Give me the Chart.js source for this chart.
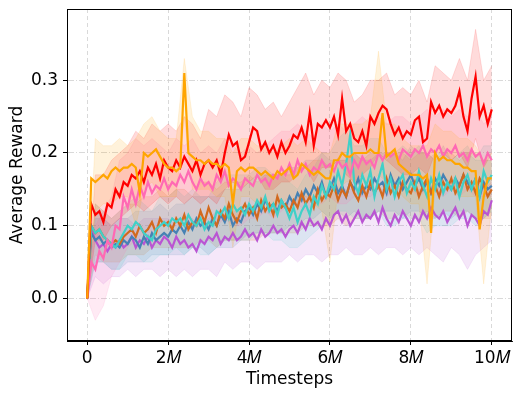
<!DOCTYPE html>
<html>
<head>
<meta charset="utf-8">
<script src="https://cdn.jsdelivr.net/npm/chart.js@4.4.1/dist/chart.umd.min.js"></script>
<style>
html,body{margin:0;padding:0;background:#fff;}
canvas{display:block;}
</style>
</head>
<body>
<canvas id="c" width="522" height="398"></canvas>
<script>
// ---- x grid (millions of timesteps) ----
const timesteps = Array.from({length: 101}, (_, i) => i / 10);   // mean curves every 0.1M
const bandSteps = Array.from({length: 51}, (_, i) => i / 5);     // shaded bands every 0.2M

const xTickValues = [0, 2, 4, 6, 8, 10];
const xTickLabels = ['0', '2\u{1D440}', '4\u{1D440}', '6\u{1D440}', '8\u{1D440}', '10\u{1D440}'];
const yTickValues = [0, 0.1, 0.2, 0.3];
const yTickLabels = ['0.0', '0.1', '0.2', '0.3'];

// ---- mean curves ----
const redMean = [0.0,0.13,0.115,0.12,0.105,0.13,0.125,0.15,0.14,0.16,
0.155,0.17,0.165,0.175,0.16,0.18,0.17,0.185,0.165,0.19,
0.18,0.175,0.19,0.18,0.195,0.185,0.175,0.19,0.17,0.185,
0.19,0.18,0.19,0.17,0.2,0.225,0.21,0.215,0.19,0.195,
0.215,0.235,0.23,0.205,0.215,0.2,0.21,0.195,0.215,0.2,
0.21,0.225,0.22,0.235,0.215,0.255,0.21,0.24,0.235,0.245,
0.235,0.25,0.225,0.275,0.23,0.24,0.22,0.215,0.23,0.21,
0.25,0.24,0.255,0.265,0.26,0.24,0.225,0.235,0.22,0.23,
0.225,0.245,0.25,0.215,0.22,0.27,0.255,0.265,0.25,0.26,
0.255,0.265,0.285,0.25,0.23,0.275,0.305,0.25,0.265,0.24,0.26];

const orangeMean = [0.0,0.165,0.16,0.165,0.17,0.165,0.175,0.18,0.175,0.18,
0.18,0.185,0.18,0.145,0.2,0.195,0.2,0.205,0.195,0.185,
0.18,0.18,0.175,0.18,0.31,0.2,0.195,0.19,0.19,0.185,
0.19,0.185,0.185,0.18,0.185,0.18,0.13,0.175,0.18,0.175,
0.18,0.18,0.175,0.17,0.175,0.17,0.165,0.175,0.17,0.175,
0.18,0.165,0.17,0.185,0.18,0.175,0.17,0.175,0.17,0.165,
0.165,0.19,0.19,0.2,0.195,0.195,0.2,0.2,0.2,0.2,
0.205,0.2,0.2,0.255,0.195,0.2,0.205,0.185,0.18,0.175,
0.17,0.17,0.17,0.165,0.17,0.09,0.2,0.19,0.195,0.19,
0.19,0.185,0.185,0.18,0.18,0.175,0.175,0.095,0.14,0.165,0.165];

const pinkMean = [0.0,0.05,0.04,0.065,0.055,0.08,0.07,0.1,0.095,0.14,
0.125,0.15,0.13,0.155,0.14,0.16,0.145,0.155,0.15,0.165,
0.15,0.16,0.155,0.17,0.16,0.175,0.16,0.15,0.165,0.155,
0.16,0.15,0.17,0.16,0.175,0.155,0.165,0.16,0.15,0.165,
0.16,0.155,0.17,0.16,0.165,0.155,0.17,0.165,0.18,0.17,
0.185,0.17,0.19,0.175,0.185,0.17,0.18,0.175,0.19,0.18,
0.185,0.175,0.19,0.18,0.185,0.17,0.19,0.18,0.195,0.185,
0.19,0.18,0.2,0.19,0.2,0.195,0.2,0.19,0.205,0.2,
0.195,0.205,0.2,0.21,0.195,0.205,0.2,0.21,0.195,0.205,
0.2,0.21,0.195,0.2,0.19,0.205,0.195,0.2,0.185,0.2,0.19];

const cyanMean = [0.0,0.1,0.09,0.095,0.085,0.08,0.075,0.07,0.08,0.09,
0.1,0.095,0.105,0.1,0.09,0.085,0.08,0.095,0.1,0.105,
0.1,0.11,0.105,0.11,0.1,0.115,0.105,0.1,0.11,0.095,
0.105,0.1,0.12,0.115,0.125,0.11,0.13,0.12,0.125,0.115,
0.13,0.12,0.135,0.125,0.14,0.12,0.13,0.115,0.135,0.125,
0.11,0.125,0.105,0.12,0.13,0.115,0.14,0.13,0.155,0.14,
0.16,0.15,0.175,0.155,0.185,0.225,0.16,0.145,0.17,0.155,
0.175,0.14,0.165,0.185,0.15,0.165,0.14,0.16,0.17,0.145,
0.16,0.15,0.175,0.155,0.14,0.165,0.15,0.17,0.145,0.16,
0.15,0.165,0.14,0.16,0.17,0.15,0.165,0.14,0.175,0.16,0.17];

const blueMean = [0.0,0.09,0.08,0.085,0.075,0.08,0.07,0.075,0.07,0.08,
0.075,0.085,0.08,0.07,0.085,0.075,0.09,0.08,0.085,0.09,
0.085,0.095,0.09,0.1,0.09,0.105,0.095,0.11,0.1,0.105,
0.095,0.11,0.1,0.115,0.105,0.12,0.1,0.11,0.105,0.12,
0.125,0.115,0.13,0.12,0.135,0.125,0.13,0.12,0.135,0.125,
0.14,0.13,0.145,0.135,0.15,0.14,0.155,0.145,0.16,0.14,
0.15,0.165,0.145,0.155,0.14,0.16,0.15,0.165,0.145,0.155,
0.15,0.165,0.155,0.16,0.145,0.17,0.155,0.165,0.15,0.16,
0.17,0.155,0.165,0.15,0.16,0.145,0.165,0.155,0.17,0.16,
0.15,0.165,0.155,0.17,0.16,0.15,0.165,0.14,0.16,0.15,0.155];

const brownMean = [0.0,0.1,0.09,0.095,0.085,0.08,0.075,0.08,0.075,0.085,
0.09,0.095,0.085,0.1,0.09,0.095,0.105,0.09,0.11,0.1,
0.105,0.095,0.11,0.1,0.115,0.095,0.105,0.1,0.12,0.105,
0.125,0.11,0.1,0.12,0.11,0.13,0.115,0.105,0.12,0.13,
0.115,0.125,0.11,0.135,0.12,0.13,0.115,0.14,0.125,0.13,
0.12,0.135,0.125,0.145,0.13,0.14,0.125,0.15,0.135,0.145,
0.14,0.155,0.135,0.15,0.14,0.16,0.145,0.135,0.155,0.14,
0.16,0.145,0.155,0.14,0.165,0.145,0.155,0.14,0.16,0.15,
0.145,0.16,0.14,0.155,0.165,0.145,0.155,0.14,0.16,0.15,
0.165,0.145,0.155,0.17,0.15,0.16,0.145,0.165,0.155,0.14,0.15];

const purpleMean = [0.0,0.095,0.08,0.07,0.075,0.065,0.075,0.07,0.08,0.07,
0.075,0.085,0.07,0.08,0.075,0.085,0.07,0.08,0.075,0.085,
0.08,0.07,0.085,0.075,0.08,0.07,0.075,0.065,0.08,0.075,
0.085,0.08,0.09,0.075,0.085,0.08,0.09,0.08,0.085,0.095,
0.085,0.09,0.08,0.095,0.085,0.09,0.1,0.09,0.095,0.085,
0.095,0.1,0.09,0.105,0.095,0.11,0.1,0.105,0.095,0.11,
0.1,0.115,0.12,0.105,0.115,0.1,0.11,0.12,0.105,0.115,
0.11,0.12,0.105,0.125,0.11,0.1,0.115,0.105,0.12,0.11,
0.1,0.115,0.105,0.12,0.11,0.125,0.115,0.11,0.12,0.105,
0.115,0.125,0.11,0.12,0.1,0.115,0.11,0.1,0.12,0.115,0.135];

// ---- shaded bands (upper / lower) ----
const redHigh = [0.0,0.17,0.17,0.19,0.2,0.21,0.23,0.22,0.24,0.23,0.24,0.23,0.25,0.24,0.22,0.26,0.25,0.28,0.27,0.25,
0.29,0.28,0.26,0.27,0.25,0.27,0.29,0.31,0.28,0.3,0.29,0.31,0.3,0.27,0.28,0.3,0.3,0.31,0.28,0.29,
0.28,0.3,0.27,0.32,0.31,0.3,0.33,0.3,0.37,0.3,0.32];
const redLow = [0.0,0.08,0.08,0.1,0.11,0.12,0.13,0.12,0.13,0.14,0.13,0.14,0.13,0.14,0.13,0.14,0.13,0.15,0.16,0.15,
0.16,0.17,0.15,0.15,0.16,0.16,0.17,0.18,0.16,0.18,0.18,0.19,0.17,0.16,0.17,0.18,0.2,0.19,0.18,0.17,
0.17,0.18,0.17,0.2,0.2,0.19,0.2,0.18,0.22,0.18,0.2];

const orangeHigh = [0.0,0.22,0.21,0.21,0.22,0.21,0.22,0.24,0.25,0.23,0.22,0.22,0.33,0.25,0.23,0.23,0.22,0.22,0.2,0.22,
0.22,0.21,0.21,0.2,0.21,0.22,0.21,0.22,0.21,0.2,0.2,0.24,0.24,0.24,0.24,0.25,0.34,0.24,0.24,0.22,
0.21,0.21,0.21,0.24,0.23,0.23,0.22,0.22,0.21,0.19,0.2];
const orangeLow = [0.0,0.12,0.13,0.13,0.14,0.14,0.1,0.15,0.16,0.14,0.14,0.14,0.25,0.15,0.15,0.15,0.14,0.14,0.07,0.14,
0.14,0.13,0.13,0.13,0.13,0.14,0.13,0.14,0.13,0.12,0.05,0.15,0.16,0.16,0.16,0.16,0.17,0.16,0.16,0.14,
0.13,0.13,0.02,0.15,0.15,0.15,0.14,0.14,0.14,0.02,0.13];

const pinkHigh = [0.0,0.1,0.12,0.14,0.19,0.2,0.22,0.21,0.22,0.21,0.2,0.22,0.21,0.22,0.2,0.21,0.2,0.22,0.21,0.2,
0.21,0.2,0.21,0.22,0.23,0.23,0.24,0.23,0.22,0.24,0.23,0.24,0.23,0.24,0.25,0.24,0.25,0.24,0.25,0.25,
0.24,0.25,0.26,0.25,0.26,0.25,0.26,0.25,0.26,0.24,0.25];
const pinkLow = [0.0,-0.03,-0.01,0.03,0.05,0.07,0.08,0.09,0.09,0.1,0.1,0.1,0.11,0.1,0.1,0.11,0.1,0.11,0.1,0.1,
0.11,0.11,0.12,0.11,0.12,0.13,0.13,0.12,0.13,0.13,0.14,0.13,0.13,0.14,0.14,0.14,0.15,0.14,0.15,0.15,
0.15,0.14,0.15,0.15,0.14,0.15,0.14,0.15,0.14,0.14,0.14];

const cyanHigh = [0.0,0.13,0.12,0.11,0.12,0.13,0.14,0.13,0.12,0.14,0.14,0.15,0.14,0.15,0.14,0.14,0.16,0.17,0.17,0.17,
0.17,0.18,0.18,0.17,0.17,0.16,0.15,0.17,0.18,0.2,0.2,0.22,0.23,0.21,0.21,0.22,0.22,0.2,0.2,0.21,
0.2,0.21,0.19,0.2,0.2,0.19,0.2,0.21,0.19,0.21,0.21];
const cyanLow = [0.0,0.05,0.05,0.04,0.04,0.06,0.06,0.05,0.05,0.06,0.06,0.07,0.06,0.07,0.06,0.06,0.07,0.08,0.08,0.08,
0.08,0.09,0.09,0.08,0.08,0.07,0.07,0.08,0.09,0.1,0.11,0.12,0.12,0.11,0.11,0.11,0.12,0.1,0.1,0.11,
0.11,0.11,0.09,0.1,0.1,0.1,0.11,0.11,0.1,0.11,0.12];

const blueHigh = [0.0,0.11,0.11,0.1,0.11,0.11,0.12,0.12,0.12,0.13,0.12,0.13,0.13,0.14,0.14,0.14,0.14,0.15,0.15,0.15,
0.16,0.17,0.17,0.17,0.17,0.18,0.18,0.19,0.19,0.2,0.19,0.19,0.19,0.2,0.19,0.19,0.2,0.2,0.2,0.19,
0.21,0.2,0.2,0.19,0.21,0.19,0.2,0.2,0.19,0.19,0.19];
const blueLow = [0.0,0.05,0.05,0.04,0.04,0.05,0.05,0.05,0.06,0.06,0.06,0.06,0.06,0.07,0.07,0.06,0.07,0.07,0.07,0.08,
0.09,0.09,0.09,0.09,0.09,0.1,0.1,0.11,0.11,0.12,0.11,0.12,0.11,0.12,0.11,0.11,0.12,0.12,0.12,0.11,
0.12,0.12,0.11,0.11,0.12,0.11,0.12,0.12,0.11,0.11,0.12];

const brownHigh = [0.0,0.13,0.12,0.11,0.12,0.13,0.13,0.14,0.14,0.15,0.14,0.15,0.15,0.14,0.16,0.16,0.15,0.16,0.16,0.16,
0.17,0.16,0.17,0.17,0.17,0.17,0.18,0.18,0.19,0.19,0.18,0.19,0.19,0.2,0.19,0.2,0.2,0.19,0.2,0.2,
0.19,0.2,0.2,0.19,0.2,0.2,0.19,0.2,0.2,0.19,0.19];
const brownLow = [0.0,0.06,0.05,0.05,0.05,0.06,0.06,0.06,0.07,0.07,0.07,0.07,0.07,0.07,0.08,0.08,0.07,0.08,0.08,0.08,
0.08,0.08,0.09,0.09,0.09,0.09,0.09,0.1,0.1,0.1,0.1,0.11,0.1,0.11,0.11,0.11,0.12,0.11,0.11,0.12,
0.11,0.11,0.12,0.11,0.12,0.12,0.11,0.12,0.11,0.11,0.11];

const purpleHigh = [0.0,0.12,0.11,0.1,0.11,0.11,0.1,0.11,0.11,0.11,0.11,0.1,0.11,0.11,0.1,0.11,0.12,0.12,0.12,0.12,
0.12,0.12,0.12,0.13,0.13,0.13,0.14,0.14,0.14,0.14,0.14,0.15,0.15,0.15,0.15,0.15,0.15,0.15,0.16,0.15,
0.15,0.15,0.15,0.16,0.15,0.15,0.16,0.15,0.16,0.15,0.16];
const purpleLow = [0.0,0.03,0.02,0.03,0.03,0.04,0.03,0.04,0.04,0.03,0.04,0.03,0.04,0.03,0.04,0.04,0.03,0.05,0.04,0.05,
0.05,0.04,0.05,0.05,0.05,0.06,0.05,0.06,0.06,0.05,0.06,0.06,0.07,0.06,0.06,0.07,0.06,0.07,0.07,0.06,
0.07,0.06,0.07,0.06,0.05,0.07,0.06,0.04,0.06,0.07,0.08];

// ---- styling (z-order: first = top) ----
const series = [
  {mean: orangeMean, hi: orangeHigh, lo: orangeLow, rgb: [255,165,0]},
  {mean: redMean,    hi: redHigh,    lo: redLow,    rgb: [255,0,0]},
  {mean: pinkMean,   hi: pinkHigh,   lo: pinkLow,   rgb: [255,105,180]},
  {mean: cyanMean,   hi: cyanHigh,   lo: cyanLow,   rgb: [64,208,200]},
  {mean: brownMean,  hi: brownHigh,  lo: brownLow,  rgb: [210,105,30]},
  {mean: blueMean,   hi: blueHigh,   lo: blueLow,   rgb: [70,130,180]},
  {mean: purpleMean, hi: purpleHigh, lo: purpleLow, rgb: [186,85,211]},
];

const toPts = (xs, ys) => ys.map((y, i) => ({x: xs[i], y}));
const datasets = [];
series.forEach((s, k) => {
  const c = s.rgb.join(',');
  datasets.push({data: toPts(bandSteps, s.hi), fill: '+1', backgroundColor: `rgba(${c},0.14)`,
    borderWidth: 1, borderColor: `rgba(${c},0.12)`, pointRadius: 0, tension: 0, order: 100 + k});
  datasets.push({data: toPts(bandSteps, s.lo), fill: false,
    borderWidth: 1, borderColor: `rgba(${c},0.12)`, pointRadius: 0, tension: 0, order: 100 + k});
});
series.forEach((s, k) => {
  const c = s.rgb.join(',');
  datasets.push({data: toPts(timesteps, s.mean), fill: false, borderColor: `rgb(${c})`,
    borderWidth: 2.2, pointRadius: 0, tension: 0, order: k});
});

const frame = {
  id: 'frame',
  afterDatasetsDraw(chart) {
    const {ctx, chartArea: a} = chart;
    ctx.save();
    ctx.strokeStyle = '#000';
    ctx.lineWidth = 1;
    ctx.beginPath();
    ctx.moveTo(a.left, a.top + 0.5); ctx.lineTo(a.right, a.top + 0.5);
    ctx.moveTo(a.right - 0.5, a.top); ctx.lineTo(a.right - 0.5, a.bottom);
    ctx.moveTo(a.left + 0.5, a.top); ctx.lineTo(a.left + 0.5, a.bottom);
    ctx.moveTo(a.left, a.bottom - 0.5); ctx.lineTo(a.right, a.bottom - 0.5);
    ctx.stroke();
    ctx.restore();
  }
};

const FONT = 'DejaVu Sans';
new Chart(document.getElementById('c'), {
  type: 'line',
  data: {datasets},
  plugins: [frame],
  options: {
    responsive: false,
    animation: false,
    events: [],
    layout: {padding: {left: 0, right: 10, top: 9, bottom: 0}},
    plugins: {legend: {display: false}, tooltip: {enabled: false}},
    scales: {
      x: {
        type: 'linear', min: -0.5, max: 10.5,
        afterBuildTicks: sc => { sc.ticks = xTickValues.map(v => ({value: v})); },
        afterFit: sc => { sc.height = 57; sc.paddingLeft = 0; sc.paddingRight = 0; },
        ticks: {callback: (v, i) => xTickLabels[i], color: '#000', padding: 3, maxRotation: 0,
          font: {family: FONT, size: 17}},
        grid: {color: '#cfcfcf', lineWidth: 0.8, drawTicks: true, tickLength: 4, tickColor: '#000', tickWidth: 1, tickBorderDash: []},
        border: {display: true, color: '#000', width: 1, dash: [4, 3]},
        title: {display: true, text: 'Timesteps', color: '#000', font: {family: FONT, size: 17}, padding: {top: 0, bottom: 8}}
      },
      y: {
        type: 'linear', min: -0.0585, max: 0.398,
        afterBuildTicks: sc => { sc.ticks = yTickValues.map(v => ({value: v})); },
        afterFit: sc => { sc.width = 67; sc.paddingTop = 0; sc.paddingBottom = 0; },
        ticks: {callback: (v, i) => yTickLabels[i], color: '#000', padding: 5,
          font: {family: FONT, size: 17}},
        grid: {color: '#cfcfcf', lineWidth: 0.8, drawTicks: true, tickLength: 4, tickColor: '#000', tickWidth: 1, tickBorderDash: []},
        border: {display: true, color: '#000', width: 1, dash: [6, 2, 1, 2]},
        title: {display: true, text: 'Average Reward', color: '#000', font: {family: FONT, size: 17}, padding: {top: 7, bottom: 0}}
      }
    }
  }
});
</script>
</body>
</html>
